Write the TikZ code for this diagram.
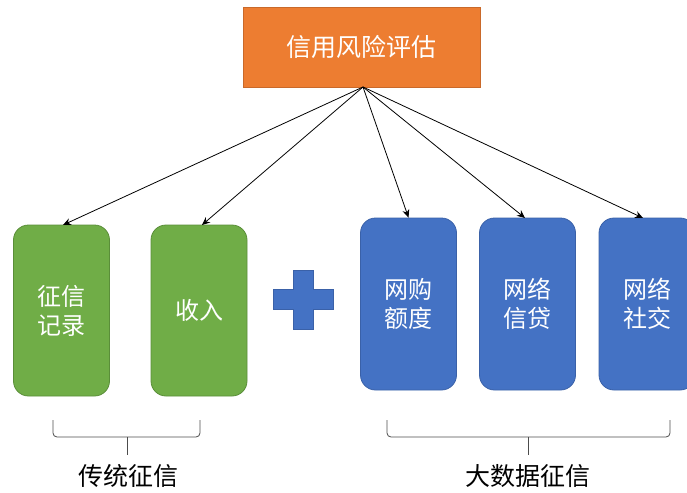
\documentclass[tikz,border=0pt]{standalone}
\usepackage{fontspec}
\setmainfont{Noto Sans CJK SC}
\usetikzlibrary{arrows.meta}
\definecolor{orgF}{HTML}{ED7D31}
\definecolor{orgD}{HTML}{C9692A}
\definecolor{grnF}{HTML}{70AD47}
\definecolor{grnD}{HTML}{5A8E39}
\definecolor{bluF}{HTML}{4472C4}
\definecolor{bluD}{HTML}{3A61A8}
\tikzset{
  box/.style={draw, line width=0.8pt, rounded corners=15pt, minimum width=96pt, text=white, align=center, font=\fontsize{24}{29}\selectfont, inner sep=0pt},
  gbox/.style={box, fill=grnF, draw=grnD, minimum height=171pt},
  bbox/.style={box, fill=bluF, draw=bluD, minimum height=172pt},
  arr/.style={-{Stealth[length=8pt,width=7pt]}, line width=0.8pt, black},
  brc/.style={line width=0.8pt, draw=black!70, rounded corners=4pt},
  lbl/.style={font=\fontsize{25}{28}\selectfont, text=black}
}
\begin{document}
\begin{tikzpicture}[x=1pt,y=-1pt]
\useasboundingbox (0,0) rectangle (687,492);
\node[draw=orgD, fill=orgF, line width=0.8pt, minimum width=237pt, minimum height=80pt, text=white, font=\fontsize{25}{28}\selectfont, inner sep=0pt] (top) at (361.5,47) {信用风险评估};
\coordinate (src) at (363,87);
\node[gbox] (g1) at (61.5,310.5) {征信\\记录};
\node[gbox] (g2) at (199,310.5) {收入};
\node[bbox] (b1) at (408.5,304) {网购\\额度};
\node[bbox] (b2) at (527.5,304) {网络\\信贷};
\node[bbox] (b3) at (647,304) {网络\\社交};
\draw[arr] (src) -- (63,225);
\draw[arr] (src) -- (202,225);
\draw[arr] (src) -- (b1.north);
\draw[arr] (src) -- (525,218);
\draw[arr] (src) -- (643,218);
% plus sign
\fill[bluF, draw=bluD, line width=0.6pt] (293,270) -- (313,270) -- (313,289) -- (333,289) -- (333,309) -- (313,309) -- (313,329) -- (293,329) -- (293,309) -- (273,309) -- (273,289) -- (293,289) -- cycle;
% braces
\coordinate (l1) at (53,420);
\coordinate (l2) at (200,420);
\coordinate (lt) at (127,455);
\draw[brc] (l1) -- (53,437) -- (127,437) -- (200,437) -- (l2);
\draw[line width=0.8pt, draw=black!70] (127,437) -- (lt);
\coordinate (r1) at (387,420);
\coordinate (r2) at (670,420);
\coordinate (rt) at (528,455);
\draw[brc] (r1) -- (387,437) -- (670,437) -- (r2);
\draw[line width=0.8pt, draw=black!70] (528,437) -- (rt);
\node[lbl] (t1) at (128,476) {传统征信};
\node[lbl] (t2) at (528,476) {大数据征信};
\end{tikzpicture}
\end{document}
